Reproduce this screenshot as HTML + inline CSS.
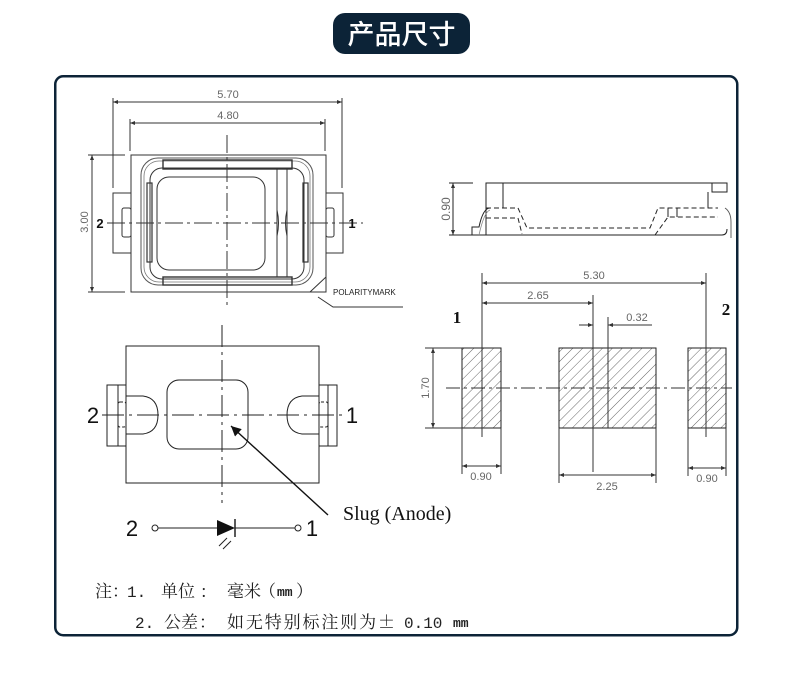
<!DOCTYPE html>
<html><head><meta charset="utf-8"><style>
html,body{margin:0;padding:0;background:#fff;width:790px;height:700px;overflow:hidden}
svg{display:block}
.dim{font-family:"Liberation Sans",sans-serif;font-size:11px;fill:#666}
</style></head><body>
<svg width="790" height="700" viewBox="0 0 790 700" xmlns="http://www.w3.org/2000/svg">
<defs>
<marker id="ar" viewBox="0 0 10 10" refX="10" refY="5" markerWidth="7" markerHeight="5" markerUnits="userSpaceOnUse" orient="auto-start-reverse"><path d="M0,1 L10,5 L0,9 z" fill="#333"/></marker>
<marker id="big" viewBox="0 0 10 10" refX="10" refY="5" markerWidth="12" markerHeight="10" markerUnits="userSpaceOnUse" orient="auto"><path d="M0,0 L10,5 L0,10 z" fill="#111"/></marker>
<pattern id="hatch" width="7" height="7" patternUnits="userSpaceOnUse" patternTransform="rotate(45)"><line x1="0" y1="0" x2="0" y2="7" stroke="#555" stroke-width="0.9"/></pattern>
</defs>

<!-- title badge -->
<rect x="333" y="13" width="137" height="41" rx="12" fill="#0c2337"/>
<text x="401.5" y="44" text-anchor="middle" font-family="'Noto Sans CJK SC',sans-serif" font-size="27" font-weight="500" fill="#fff">产品尺寸</text>

<!-- frame -->
<rect x="55.25" y="76.25" width="682" height="559" rx="8" fill="#fff" stroke="#0c2337" stroke-width="2.5"/>

<!-- ===== top-left drawing ===== -->
<g stroke="#333" stroke-width="1" fill="none">
  <line x1="113" y1="102" x2="342" y2="102" marker-start="url(#ar)" marker-end="url(#ar)"/>
  <line x1="113" y1="98" x2="113" y2="188"/>
  <line x1="342" y1="98" x2="342" y2="188"/>
  <line x1="130" y1="123" x2="325" y2="123" marker-start="url(#ar)" marker-end="url(#ar)"/>
  <line x1="130" y1="119" x2="130" y2="151"/>
  <line x1="325" y1="119" x2="325" y2="151"/>
  <line x1="92" y1="155" x2="92" y2="292" marker-start="url(#ar)" marker-end="url(#ar)"/>
  <line x1="88" y1="155" x2="125" y2="155"/>
  <line x1="88" y1="292" x2="125" y2="292"/>
  <rect x="131" y="155" width="195" height="137"/>
  <rect x="113" y="193" width="18" height="60"/>
  <rect x="326" y="193" width="17" height="60"/>
  <rect x="122" y="208" width="9" height="29" rx="2"/>
  <rect x="326" y="208" width="8" height="29" rx="2"/>
  <rect x="141" y="158" width="172" height="127" rx="17" stroke="#555"/>
  <rect x="144" y="161" width="166" height="121" rx="15" stroke="#777" stroke-width="0.8"/>
  <rect x="150" y="168" width="154" height="111" rx="12"/>
  <rect x="157" y="177" width="108" height="93" rx="12"/>
  <rect x="163" y="160" width="129" height="9" stroke-width="1.4"/>
  <rect x="163" y="277" width="129" height="8" stroke-width="1.4"/>
  <rect x="147" y="183" width="5" height="79" stroke-width="1.2"/>
  <rect x="303" y="183" width="5" height="79" stroke-width="1.2"/>
  <line x1="277" y1="169" x2="277" y2="277"/>
  <line x1="287" y1="169" x2="287" y2="277"/>
  <path d="M277,210 Q280,223 277,236 M287,210 Q284,223 287,236"/>
  <line x1="310" y1="292" x2="326" y2="277"/>
  <path d="M318,297 L333,307 L403,307"/>
  <line x1="227" y1="135" x2="227" y2="307" stroke-dasharray="18 4 3 4"/>
  <line x1="107" y1="223" x2="363" y2="223" stroke-dasharray="18 4 3 4"/>
</g>
<text class="dim" x="228" y="98" text-anchor="middle">5.70</text>
<text class="dim" x="228" y="119" text-anchor="middle">4.80</text>
<text class="dim" transform="translate(88,222) rotate(-90)" text-anchor="middle">3.00</text>
<text x="100" y="228" text-anchor="middle" font-family="'Liberation Sans',sans-serif" font-size="13" font-weight="700" fill="#111">2</text>
<text x="352" y="228" text-anchor="middle" font-family="'Liberation Sans',sans-serif" font-size="13" font-weight="700" fill="#111">1</text>
<text x="333" y="295" font-family="'Liberation Sans',sans-serif" font-size="8" fill="#222">POLARITYMARK</text>

<!-- ===== bottom-left drawing ===== -->
<g stroke="#222" stroke-width="1" fill="none">
  <rect x="126" y="346" width="193" height="137"/>
  <rect x="107" y="385" width="19" height="61"/>
  <line x1="118" y1="385" x2="118" y2="446"/>
  <rect x="319" y="385" width="18" height="61"/>
  <line x1="328" y1="385" x2="328" y2="446"/>
  <rect x="118" y="402" width="8" height="25" rx="2" stroke-dasharray="3 2"/>
  <rect x="319" y="402" width="9" height="25" rx="2" stroke-dasharray="3 2"/>
  <path d="M126,396 L143,396 Q158,398 158,415 Q158,432 143,434 L126,434"/>
  <path d="M319,396 L302,396 Q287,398 287,415 Q287,432 302,434 L319,434"/>
  <rect x="167" y="380" width="81" height="69" rx="12"/>
  <line x1="222" y1="325" x2="222" y2="503" stroke-dasharray="22 5 3 5"/>
  <line x1="102" y1="415" x2="347" y2="415" stroke-dasharray="22 5 3 5"/>
  <line x1="328" y1="515" x2="231" y2="426" stroke="#111" stroke-width="1.4" marker-end="url(#big)"/>
  <!-- diode -->
  <circle cx="155" cy="528" r="3"/>
  <line x1="158" y1="528" x2="217" y2="528"/>
  <line x1="235" y1="528" x2="295" y2="528"/>
  <circle cx="298" cy="528" r="3"/>
  <line x1="235" y1="519" x2="235" y2="537" stroke-width="1.5"/>
  <path d="M219,546 L227,538 M223,549 L231,541" stroke-width="1"/>
</g>
<polygon points="217,520 217,536 235,528" fill="#111"/>
<text x="93" y="423" text-anchor="middle" font-family="'Liberation Sans',sans-serif" font-size="22" fill="#111">2</text>
<text x="352" y="423" text-anchor="middle" font-family="'Liberation Sans',sans-serif" font-size="22" fill="#111">1</text>
<text x="132" y="536" text-anchor="middle" font-family="'Liberation Sans',sans-serif" font-size="22" fill="#111">2</text>
<text x="312" y="536" text-anchor="middle" font-family="'Liberation Sans',sans-serif" font-size="22" fill="#111">1</text>
<text x="343" y="520" font-family="'Liberation Serif',serif" font-size="20" fill="#111">Slug (Anode)</text>

<!-- ===== right-top side view ===== -->
<g stroke="#222" stroke-width="1" fill="none">
  <line x1="449" y1="183" x2="473" y2="183"/>
  <line x1="449" y1="235" x2="473" y2="235"/>
  <line x1="453" y1="183" x2="453" y2="235" marker-start="url(#ar)" marker-end="url(#ar)"/>
  <path d="M486,235 L486,183 L727,183 L727,192 L712,192 L712,183"/>
  <line x1="503" y1="183" x2="503" y2="208"/>
  <line x1="708" y1="192" x2="708" y2="208"/>
  <path d="M473,235 L722,235 Q727,235 727,229"/>
  <path d="M472,235 L472,227 L479,227 Q483,208 490,208"/>
  <path d="M479,235 Q484,212 490,210" stroke="#888" stroke-width="0.8"/>
  <path d="M486,208 L518,208 L527,228 L650,228 L658,208 L718,208" stroke-dasharray="5 3"/>
  <path d="M486,218 L518,218 L522,234" stroke-dasharray="5 3"/>
  <path d="M655,235 L668,217 L718,217" stroke-dasharray="5 3"/>
  <line x1="668" y1="208" x2="668" y2="217"/>
  <line x1="677" y1="208" x2="677" y2="217"/>
  <path d="M725,208 Q731,212 731,222 L731,238" stroke="#555" stroke-width="0.9"/>
</g>
<text class="dim" transform="translate(450,209) rotate(-90)" text-anchor="middle" style="font-size:12px">0.90</text>

<!-- ===== right-bottom footprint ===== -->
<g stroke="#222" stroke-width="1">
  <rect x="462" y="348" width="39" height="80" fill="url(#hatch)"/>
  <rect x="559" y="348" width="97" height="80" fill="url(#hatch)"/>
  <rect x="688" y="348" width="38" height="80" fill="url(#hatch)"/>
</g>
<g stroke="#333" stroke-width="1" fill="none">
  <line x1="482" y1="283" x2="706" y2="283" marker-start="url(#ar)" marker-end="url(#ar)"/>
  <line x1="482" y1="273" x2="482" y2="437"/>
  <line x1="706" y1="273" x2="706" y2="437"/>
  <line x1="482" y1="303" x2="593" y2="303" marker-start="url(#ar)" marker-end="url(#ar)"/>
  <line x1="593" y1="295" x2="593" y2="472"/>
  <line x1="608" y1="317" x2="608" y2="428"/>
  <line x1="579" y1="325" x2="593" y2="325" marker-end="url(#ar)"/>
  <line x1="652" y1="325" x2="608" y2="325" marker-end="url(#ar)"/>
  <line x1="446" y1="388" x2="732" y2="388" stroke-dasharray="14 4 3 4"/>
  <line x1="425" y1="348" x2="462" y2="348"/>
  <line x1="425" y1="428" x2="462" y2="428"/>
  <line x1="433" y1="348" x2="433" y2="428" marker-start="url(#ar)" marker-end="url(#ar)"/>
  <line x1="462" y1="428" x2="462" y2="474"/>
  <line x1="501" y1="428" x2="501" y2="474"/>
  <line x1="462" y1="466" x2="501" y2="466" marker-start="url(#ar)" marker-end="url(#ar)"/>
  <line x1="559" y1="428" x2="559" y2="483"/>
  <line x1="656" y1="428" x2="656" y2="483"/>
  <line x1="559" y1="475" x2="656" y2="475" marker-start="url(#ar)" marker-end="url(#ar)"/>
  <line x1="688" y1="428" x2="688" y2="476"/>
  <line x1="726" y1="428" x2="726" y2="476"/>
  <line x1="688" y1="468" x2="726" y2="468" marker-start="url(#ar)" marker-end="url(#ar)"/>
</g>
<text class="dim" x="594" y="279" text-anchor="middle">5.30</text>
<text class="dim" x="538" y="299" text-anchor="middle">2.65</text>
<text class="dim" x="637" y="321" text-anchor="middle">0.32</text>
<text class="dim" transform="translate(429,388) rotate(-90)" text-anchor="middle">1.70</text>
<text class="dim" x="481" y="480" text-anchor="middle">0.90</text>
<text class="dim" x="607" y="490" text-anchor="middle">2.25</text>
<text class="dim" x="707" y="482" text-anchor="middle">0.90</text>
<text x="457" y="323" text-anchor="middle" font-family="'Liberation Serif',serif" font-size="17" font-weight="700" fill="#111">1</text>
<text x="726" y="315" text-anchor="middle" font-family="'Liberation Serif',serif" font-size="17" font-weight="700" fill="#111">2</text>

<!-- ===== notes ===== -->
<g fill="#222" font-family="'Noto Serif CJK SC','Noto Sans CJK SC',serif" font-size="17">
  <text x="95" y="597">注：</text>
  <text x="161" y="597">单位</text>
  <text x="201" y="597">:</text>
  <text x="227" y="597">毫米</text>
  <text x="259" y="597">（</text>
  <text x="296" y="597">）</text>
  <text x="164" y="628">公差</text>
  <text x="199" y="628">：</text>
  <text x="227" y="628" textLength="168" lengthAdjust="spacing">如无特别标注则为±</text>
</g>
<g fill="#222" font-family="'Liberation Mono',monospace">
  <text x="127" y="597" font-size="16">1.</text>
  <text x="277" y="596" font-size="13" font-weight="700">mm</text>
  <text x="135" y="628" font-size="16">2.</text>
  <text x="404" y="628" font-size="16">0.10</text>
  <text x="453" y="627" font-size="13" font-weight="700">mm</text>
</g>
</svg>
</body></html>
